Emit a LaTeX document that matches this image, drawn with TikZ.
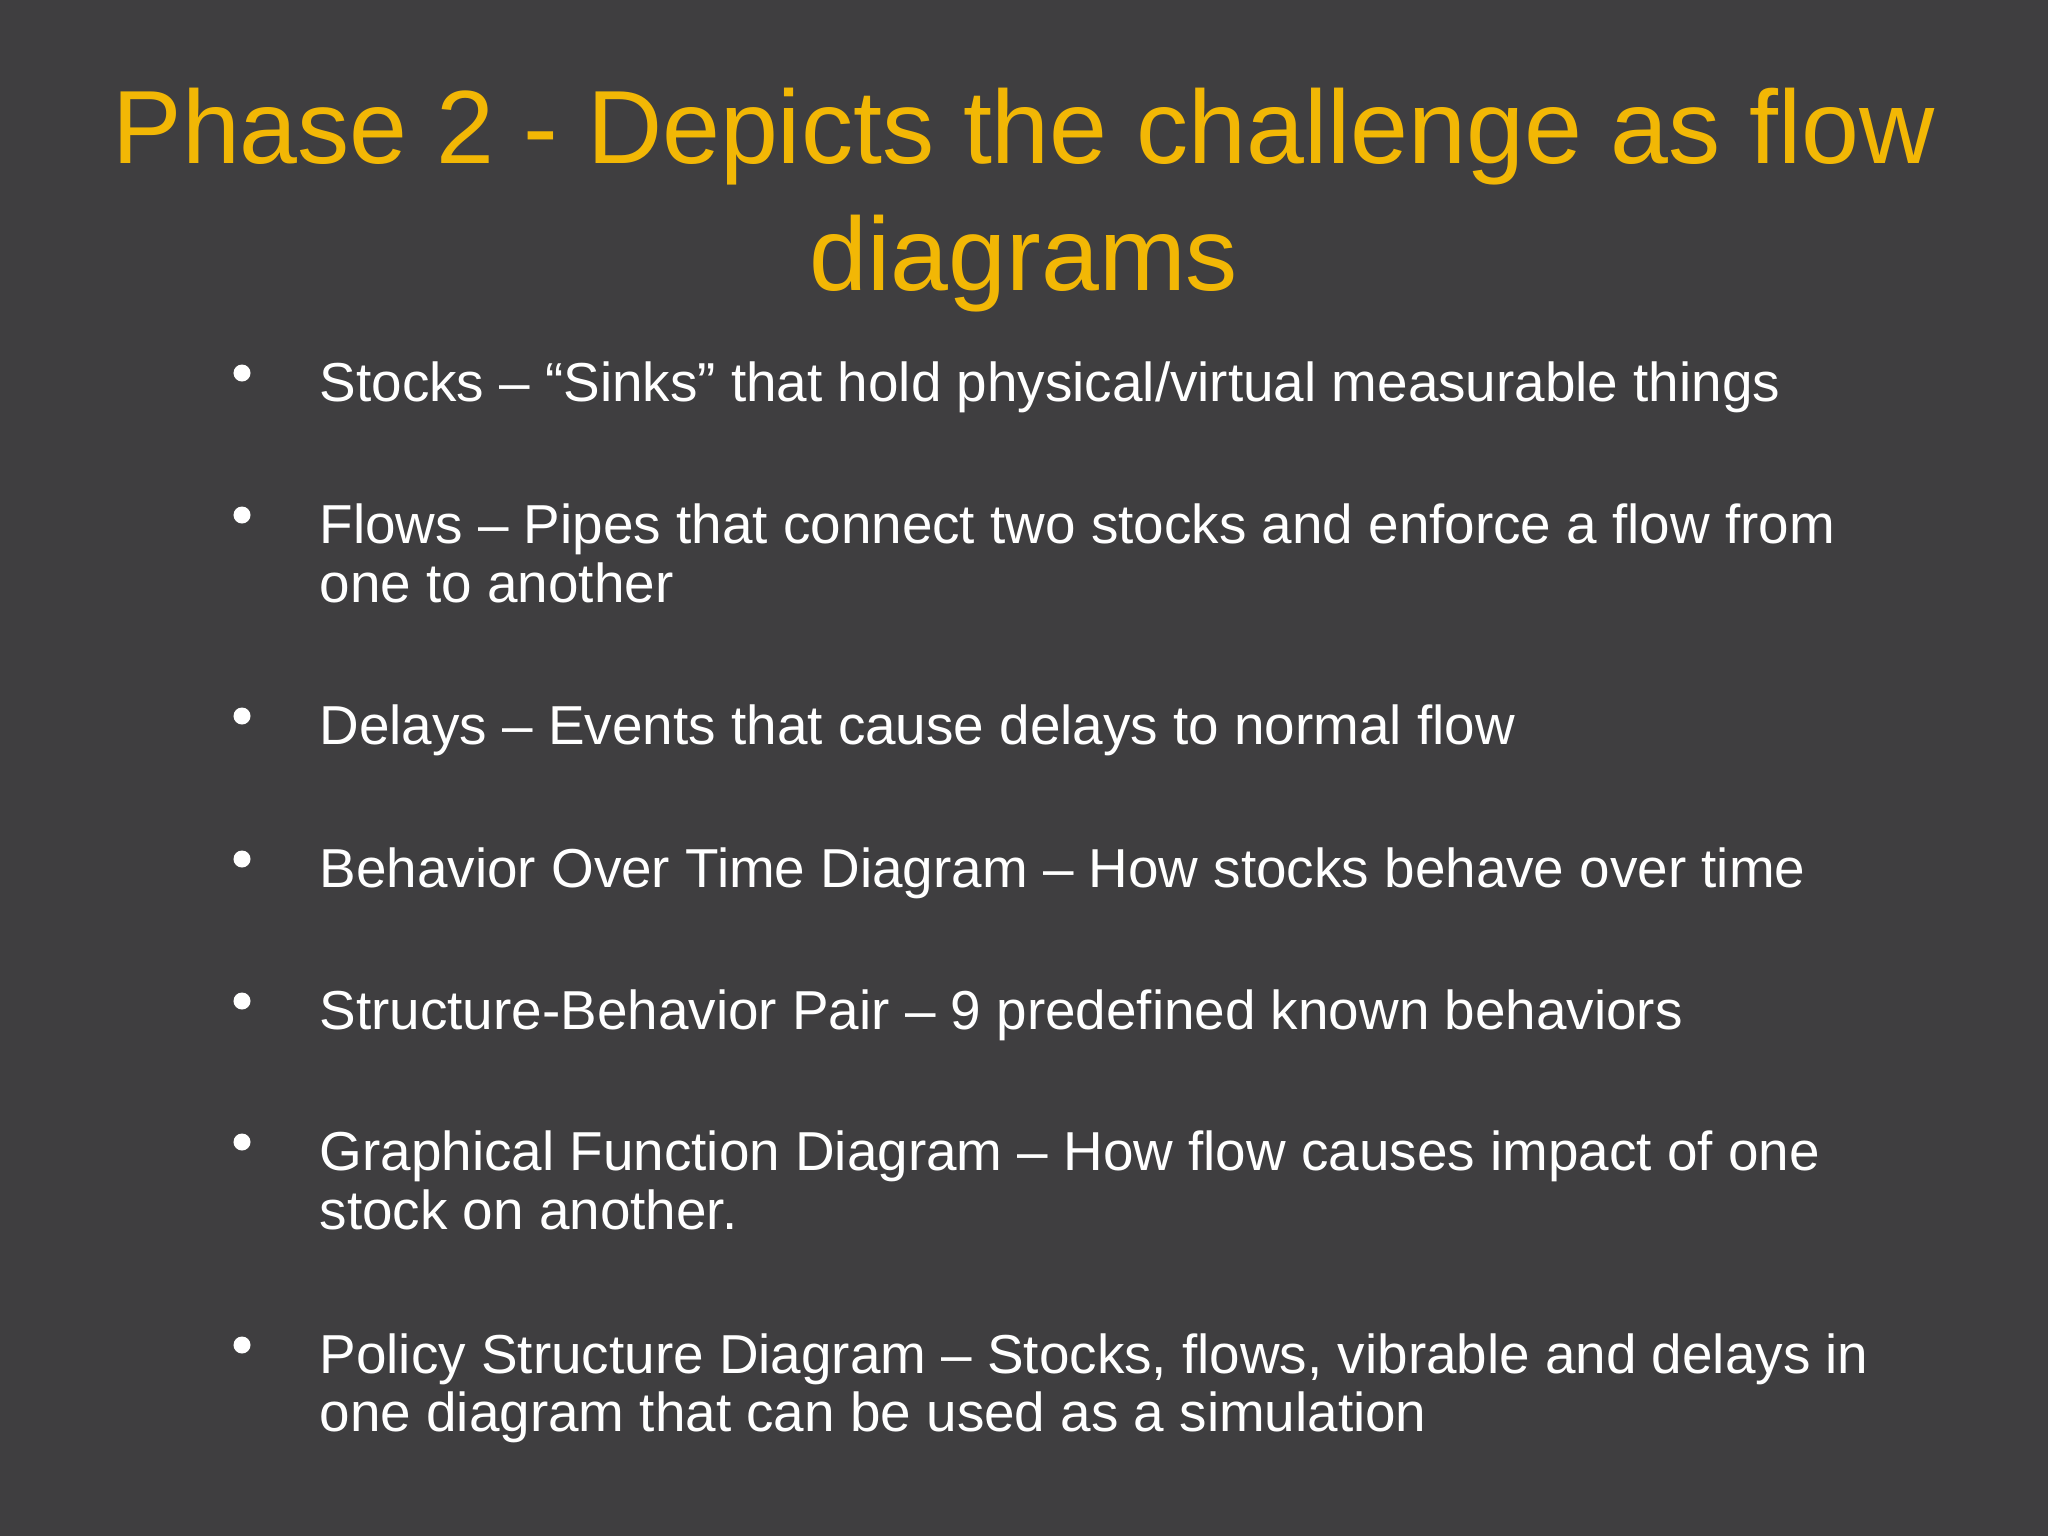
\documentclass[tikz,border=0pt]{standalone}
\usepackage{fontspec}
\setmainfont{Liberation Sans}
\definecolor{bg}{HTML}{3F3E40}
\definecolor{ttl}{HTML}{F2B705}
\begin{document}
\begin{tikzpicture}[x=0.01cm,y=-0.01cm,
  ttlstyle/.style={text=ttl,font=\fontsize{29.6}{36}\selectfont,anchor=base,inner sep=0},
  txt/.style={text=white,font=\fontsize{15.6}{18}\selectfont,anchor=base west,inner sep=0},
  dot/.style={circle,fill=white,inner sep=0,minimum size=0.17cm}]
\fill[bg] (0,0) rectangle (2048,1536);
\useasboundingbox (0,0) rectangle (2048,1536);
\node[ttlstyle] (t1) at (1024,163) {Phase 2 - Depicts the challenge as flow};
\node[ttlstyle] (t2) at (1024,290) {diagrams};
\foreach \y/\n in {373/b1,515/b2,716/b3,859/b4,1001/b5,1142/b6,1345/b7}
  \node[dot] (\n) at (242,\y) {};
\node[txt] (l1) at (319,401) {Stocks – “Sinks” that hold physical/virtual measurable things};
\node[txt] (l2) at (319,543) {Flows – Pipes that connect two stocks and enforce a flow from};
\node[txt] (l2b) at (319,602) {one to another};
\node[txt] (l3) at (319,744) {Delays – Events that cause delays to normal flow};
\node[txt] (l4) at (319,887) {Behavior Over Time Diagram – How stocks behave over time};
\node[txt] (l5) at (319,1029) {Structure-Behavior Pair – 9 predefined known behaviors};
\node[txt] (l6) at (319,1170) {Graphical Function Diagram – How flow causes impact of one};
\node[txt] (l6b) at (319,1229) {stock on another.};
\node[txt] (l7) at (319,1373) {Policy Structure Diagram – Stocks, flows, vibrable and delays in};
\node[txt] (l7b) at (319,1431) {one diagram that can be used as a simulation};
\end{tikzpicture}
\end{document}
